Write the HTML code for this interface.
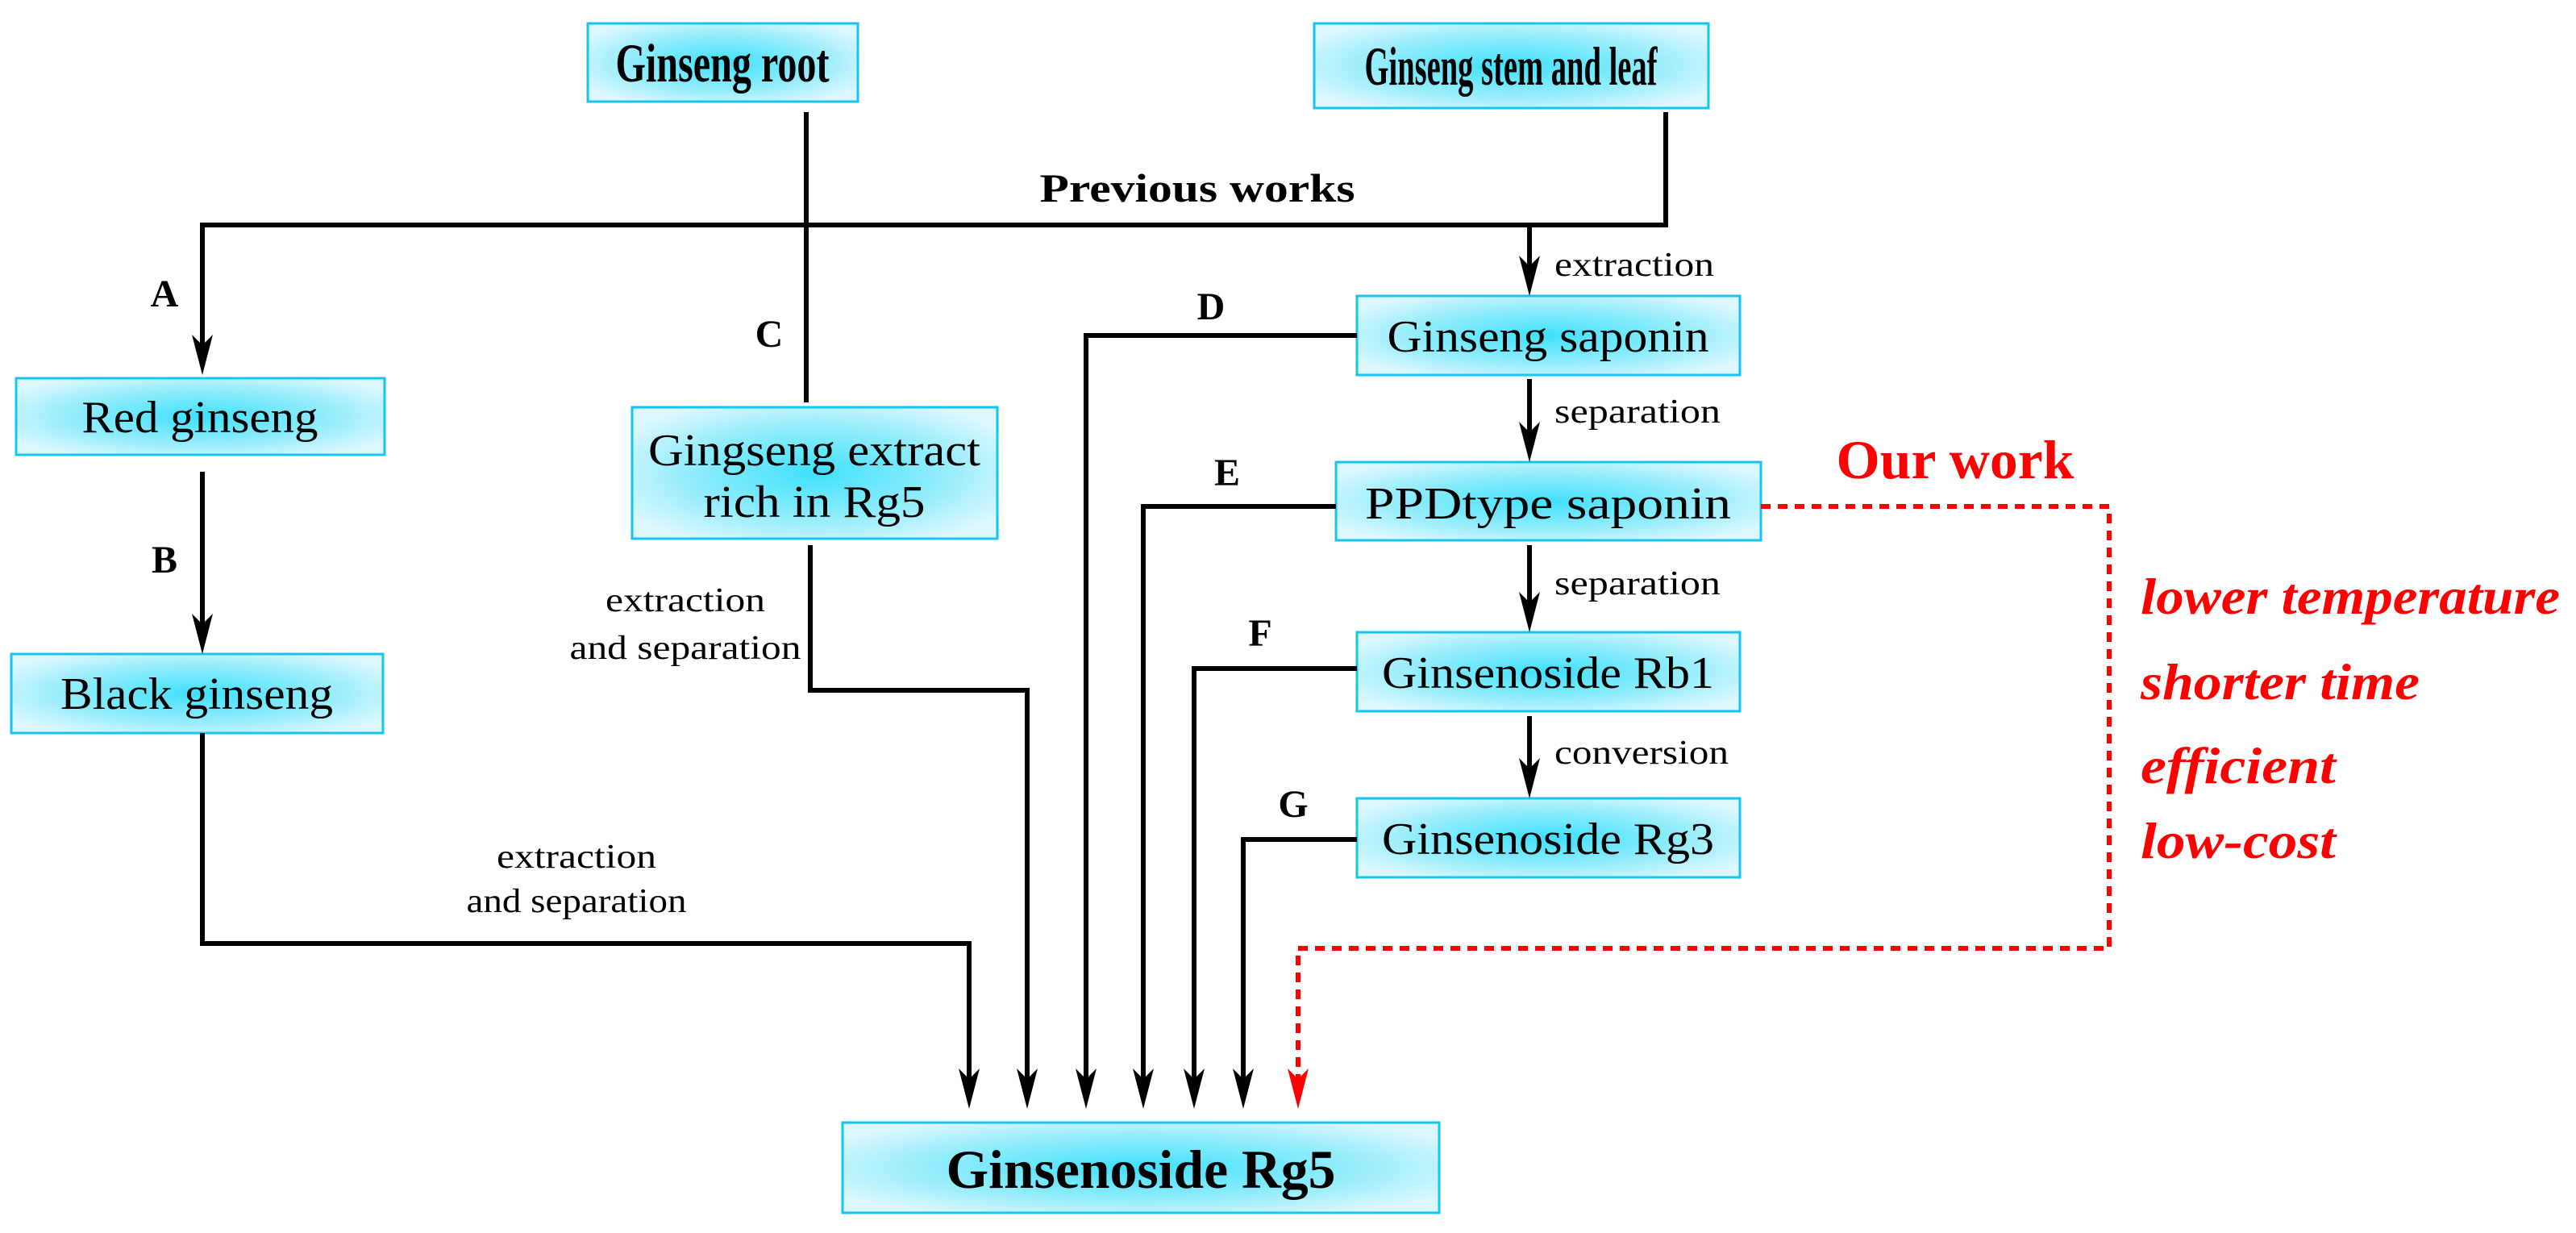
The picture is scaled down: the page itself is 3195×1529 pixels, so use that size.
<!DOCTYPE html>
<html><head><meta charset="utf-8"><style>
html,body{margin:0;padding:0;background:#fff}
svg{display:block}
text{font-family:"Liberation Serif","Times New Roman",serif}
</style></head><body>
<svg width="3195" height="1529" viewBox="0 0 3195 1529" xmlns="http://www.w3.org/2000/svg">
<defs>
<radialGradient id="g" cx="0.5" cy="0.5" r="0.6">
<stop offset="0" stop-color="#3fe0fc"/>
<stop offset="0.55" stop-color="#8eecfc"/>
<stop offset="1" stop-color="#dcf7fe"/>
</radialGradient>
</defs>
<g fill="url(#g)" stroke="#14c4f2" stroke-width="3">
<rect x="729" y="29" width="335" height="97"/>
<rect x="1630" y="29" width="489" height="105"/>
<rect x="20" y="469" width="457" height="95"/>
<rect x="14" y="811" width="461" height="98"/>
<rect x="784" y="505" width="453" height="163"/>
<rect x="1683" y="367" width="475" height="98"/>
<rect x="1657" y="573" width="527" height="97"/>
<rect x="1683" y="784" width="475" height="98"/>
<rect x="1683" y="990" width="475" height="98"/>
<rect x="1045" y="1392" width="740" height="112"/>
</g>
<g fill="none" stroke="#000" stroke-width="6">
<polyline points="1000,139 1000,499"/>
<polyline points="2066,139 2066,279 251,279 251,430"/>
<polyline points="1897,279 1897,332"/>
<polyline points="1897,470 1897,538"/>
<polyline points="1897,676 1897,749"/>
<polyline points="1897,888 1897,955"/>
<polyline points="251,585 251,776"/>
<polyline points="251,909 251,1170 1202,1170 1202,1338"/>
<polyline points="1005,676 1005,856 1274,856 1274,1338"/>
<polyline points="1683,416 1347,416 1347,1338"/>
<polyline points="1657,628 1418,628 1418,1338"/>
<polyline points="1683,829 1481,829 1481,1338"/>
<polyline points="1683,1041 1542,1041 1542,1338"/>
</g>
<g fill="#000">
<polygon points="251,465 238,415 251,428 264,415"/>
<polygon points="251,811 238,761 251,774 264,761"/>
<polygon points="1897,367 1884,317 1897,330 1910,317"/>
<polygon points="1897,573 1884,523 1897,536 1910,523"/>
<polygon points="1897,784 1884,734 1897,747 1910,734"/>
<polygon points="1897,990 1884,940 1897,953 1910,940"/>
<polygon points="1202,1375 1189,1325 1202,1338 1215,1325"/>
<polygon points="1274,1375 1261,1325 1274,1338 1287,1325"/>
<polygon points="1347,1375 1334,1325 1347,1338 1360,1325"/>
<polygon points="1418,1375 1405,1325 1418,1338 1431,1325"/>
<polygon points="1481,1375 1468,1325 1481,1338 1494,1325"/>
<polygon points="1542,1375 1529,1325 1542,1338 1555,1325"/>
</g>
<polyline points="2184,628 2616,628 2616,1176 1610,1176 1610,1338" fill="none" stroke="#f00" stroke-width="6" stroke-dasharray="12,9"/>
<polygon points="1610,1375 1597,1325 1610,1338 1623,1325" fill="#f00"/>

<g font-weight="bold" font-size="68" text-anchor="middle">
<text x="896" y="101" textLength="265" lengthAdjust="spacingAndGlyphs">Ginseng root</text>
<text x="1874" y="105" textLength="363" lengthAdjust="spacingAndGlyphs">Ginseng stem and leaf</text>
<text x="1415" y="1473" textLength="483" lengthAdjust="spacingAndGlyphs">Ginsenoside Rg5</text>
<text x="1485" y="250" font-size="50" textLength="391" lengthAdjust="spacingAndGlyphs">Previous works</text>
<text x="204" y="380" font-size="48">A</text>
<text x="204" y="710" font-size="48">B</text>
<text x="954" y="430" font-size="48">C</text>
<text x="1502" y="396" font-size="48">D</text>
<text x="1522" y="602" font-size="48">E</text>
<text x="1563" y="801" font-size="48">F</text>
<text x="1604" y="1013" font-size="48">G</text>
</g>
<g font-size="56" text-anchor="middle">
<text x="248" y="536" textLength="293" lengthAdjust="spacingAndGlyphs">Red ginseng</text>
<text x="244" y="879" textLength="338" lengthAdjust="spacingAndGlyphs">Black ginseng</text>
<text x="1010" y="577" textLength="412" lengthAdjust="spacingAndGlyphs">Gingseng extract</text>
<text x="1010" y="641" textLength="275" lengthAdjust="spacingAndGlyphs">rich in Rg5</text>
<text x="1920" y="436" textLength="399" lengthAdjust="spacingAndGlyphs">Ginseng saponin</text>
<text x="1920" y="643" textLength="454" lengthAdjust="spacingAndGlyphs">PPDtype saponin</text>
<text x="1920" y="853" textLength="412" lengthAdjust="spacingAndGlyphs">Ginsenoside Rb1</text>
<text x="1920" y="1059" textLength="412" lengthAdjust="spacingAndGlyphs">Ginsenoside Rg3</text>
</g>
<g font-size="42">
<text x="1928" y="342" textLength="198" lengthAdjust="spacingAndGlyphs">extraction</text>
<text x="1928" y="524" textLength="206" lengthAdjust="spacingAndGlyphs">separation</text>
<text x="1928" y="737" textLength="206" lengthAdjust="spacingAndGlyphs">separation</text>
<text x="1928" y="947" textLength="216" lengthAdjust="spacingAndGlyphs">conversion</text>
</g>
<g font-size="42" text-anchor="middle">
<text x="850" y="758" textLength="198" lengthAdjust="spacingAndGlyphs">extraction</text>
<text x="850" y="817" textLength="287" lengthAdjust="spacingAndGlyphs">and separation</text>
<text x="715" y="1076" textLength="198" lengthAdjust="spacingAndGlyphs">extraction</text>
<text x="715" y="1131" textLength="273" lengthAdjust="spacingAndGlyphs">and separation</text>
</g>
<text x="2425" y="593" font-size="68" font-weight="bold" fill="#f00" text-anchor="middle" textLength="295" lengthAdjust="spacingAndGlyphs">Our work</text>
<g font-size="64" font-weight="bold" font-style="italic" fill="#f00">
<text x="2655" y="761" textLength="520" lengthAdjust="spacingAndGlyphs">lower temperature</text>
<text x="2655" y="867" textLength="346" lengthAdjust="spacingAndGlyphs">shorter time</text>
<text x="2655" y="971" textLength="242" lengthAdjust="spacingAndGlyphs">efficient</text>
<text x="2655" y="1064" textLength="242" lengthAdjust="spacingAndGlyphs">low-cost</text>
</g>
</svg>
</body></html>
